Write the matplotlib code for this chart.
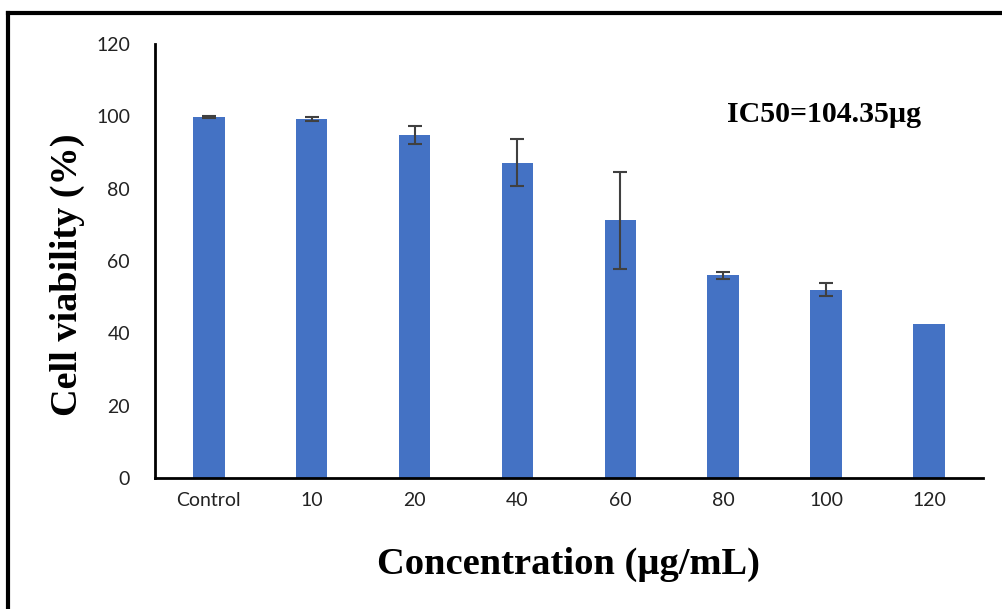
import matplotlib.pyplot as plt
from matplotlib.lines import Line2D

# Cell viability by concentration
labels = ['Control', '10', '20', '40', '60', '80', '100', '120']
viability = [99.8, 99.2, 94.8, 87.2, 71.2, 56.0, 52.0, 42.6]
errors = [0.3, 0.5, 2.6, 6.5, 13.3, 1.0, 1.8, 0.0]
yticks = [0, 20, 40, 60, 80, 100, 120]

fig = plt.figure(figsize=(10.02, 6.09), dpi=100)
ax = fig.add_axes([0.1547, 0.215, 0.8263, 0.713])

x = list(range(len(labels)))
ax.bar(x, viability, width=0.31, color='#4472C4', zorder=2)

# error bars only where there is a spread
ex = [i for i in x if errors[i] > 0]
ax.errorbar(ex, [viability[i] for i in ex], yerr=[errors[i] for i in ex],
            fmt='none', ecolor='#404040', elinewidth=1.5, capsize=5,
            capthick=1.5, zorder=3)

ax.set_xlim(-0.52, 7.52)
ax.set_ylim(0, 120)
ax.set_xticks(x)
ax.set_xticklabels(labels, fontfamily='Lato', fontsize=14, color='#222222')
ax.set_yticks(yticks)
ax.set_yticklabels([str(t) for t in yticks], fontfamily='Lato', fontsize=14,
                   color='#222222')
ax.tick_params(length=0, pad=10)
ax.tick_params(axis='y', pad=18)

for side in ['top', 'right']:
    ax.spines[side].set_visible(False)
for side in ['left', 'bottom']:
    ax.spines[side].set_linewidth(2)
    ax.spines[side].set_color('black')

ax.set_ylabel('Cell viability (%)', fontfamily='Liberation Serif',
              fontweight='bold', fontsize=27.5)
ax.yaxis.set_label_coords(-0.084, 0.469)
ax.set_xlabel('Concentration (µg/mL)', fontfamily='Liberation Serif',
              fontweight='bold', fontsize=27.7, labelpad=27)

ax.text(0.691, 0.82, 'IC50=104.35µg', transform=ax.transAxes,
        fontfamily='Liberation Serif', fontweight='bold', fontsize=21.5,
        ha='left', va='baseline')

# outer frame (left and top edges)
fig.add_artist(Line2D([0.008, 0.008], [0, 0.979], transform=fig.transFigure,
                      color='black', linewidth=3))
fig.add_artist(Line2D([0.008, 1.0], [0.979, 0.979], transform=fig.transFigure,
                      color='black', linewidth=3))

fig.savefig('out.png', dpi=100)
